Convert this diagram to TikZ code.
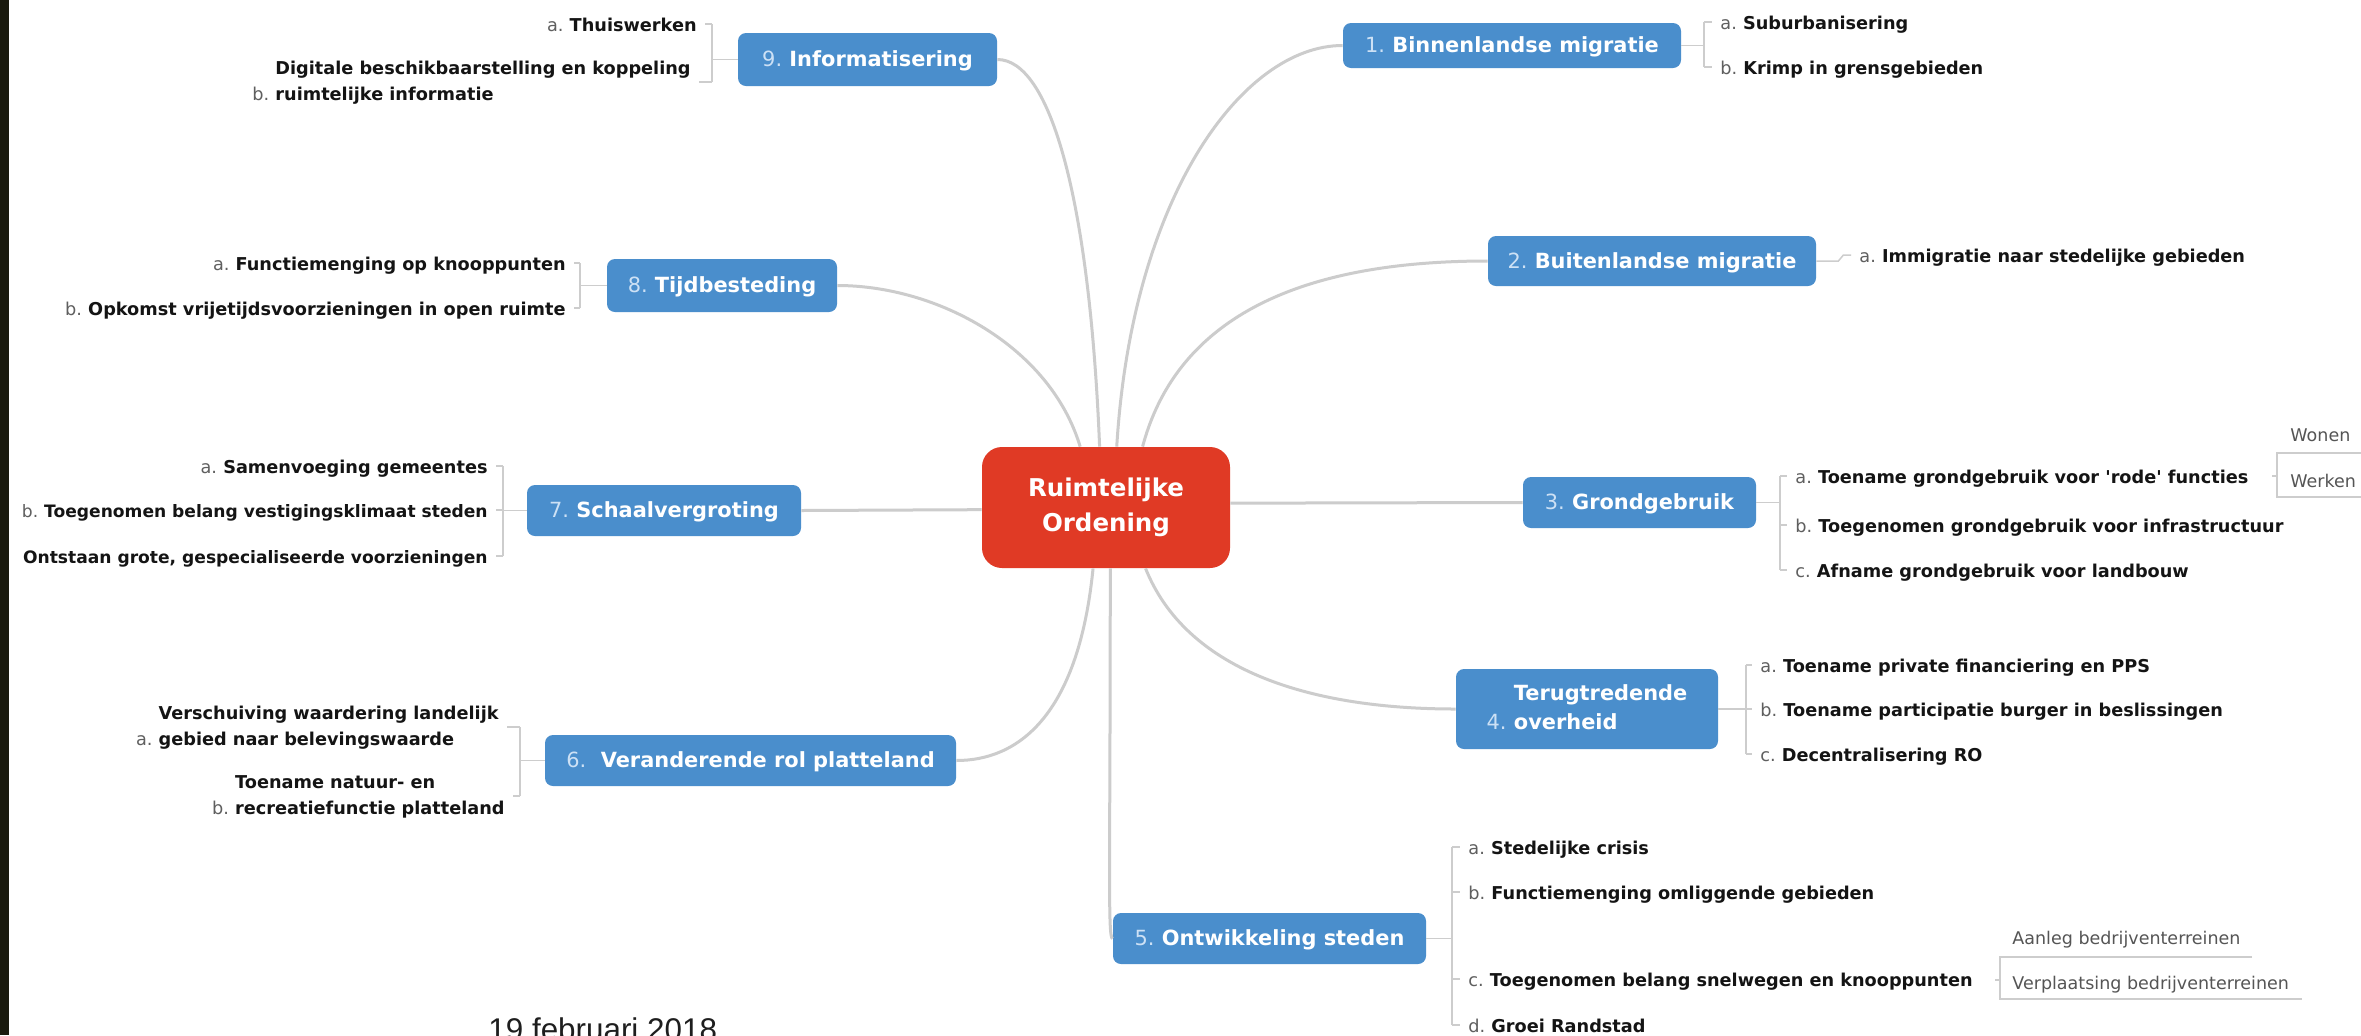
\documentclass[tikz,border=0pt]{standalone}
\usepackage{fontspec}
\setmainfont{DejaVu Sans}
\newfontfamily\datefont{Liberation Sans}
\usetikzlibrary{calc}
\definecolor{nodeblue}{RGB}{74,142,204}
\definecolor{centerred}{RGB}{224,58,37}
\definecolor{numcol}{RGB}{205,225,245}
\definecolor{lblgray}{RGB}{95,95,95}
\definecolor{linegray}{RGB}{204,204,204}
\definecolor{brgray}{RGB}{205,205,205}
\definecolor{band}{RGB}{26,26,14}
\definecolor{subgray}{RGB}{85,85,85}
\definecolor{subtext}{RGB}{20,20,20}
\newcommand\nm[1]{{\mdseries\color{numcol}#1}\ }
\newcommand\lb[1]{{\mdseries\color{lblgray}#1}\ }
\newcommand\lbt[1]{{\mdseries\color{lblgray}#1}}
\tikzset{
 topic/.style={fill=nodeblue, rounded corners=4pt, text=white, font=\fontsize{10.45}{14.5}\selectfont\bfseries, inner sep=0pt, text height=0.73em, text depth=0pt},
 topictwo/.style={fill=nodeblue, rounded corners=4pt, text=white, font=\fontsize{10.45}{14.5}\selectfont\bfseries, inner sep=0pt},
 central/.style={fill=centerred, rounded corners=10pt, text=white, font=\fontsize{12.25}{17.5}\selectfont\bfseries, align=center, inner sep=0pt},
 sub/.style={font=\fontsize{8.85}{13.25}\selectfont\bfseries, inner sep=0pt, text height=0.73em, text depth=0pt, text=subtext},
 subnarrow/.style={sub, font=\fontsize{8.55}{13.25}\selectfont\bfseries},
 subblock/.style={font=\fontsize{8.85}{13.25}\selectfont\bfseries, inner sep=0pt, text=subtext},
 minor/.style={font=\fontsize{8.75}{12}\selectfont, text=subgray, inner sep=0pt, text height=0.73em, text depth=0pt, anchor=west},
 branch/.style={draw=linegray, line width=1.5pt},
 bracket/.style={draw=brgray, line width=0.75pt},
}
\begin{document}
\begin{tikzpicture}[x=0.5pt, y=-0.5pt]
\fill[white] (0,0) rectangle (2361,1035);
\useasboundingbox (0,0) rectangle (2361,1035);

% central node
\node[central, minimum width=124pt, minimum height=60.5pt] (c) at (1106,507.5) {Ruimtelijke\\Ordening};

% main topics
\node[topic, minimum width=169pt, minimum height=22.5pt] (n1) at (1512,45.5) {\nm{1.}Binnenlandse migratie};
\node[topic, minimum width=164pt, minimum height=25pt] (n2) at (1652,261) {\nm{2.}Buitenlandse migratie};
\node[topic, minimum width=116.5pt, minimum height=25.5pt] (n3) at (1639.5,502.5) {\nm{3.}Grondgebruik};
\node[topictwo, minimum width=131pt, minimum height=40pt] (n4) at (1587,709) {\begin{tabular}{@{}r@{\ }l@{}} & Terugtredende\\ {\mdseries\color{numcol}4.} & overheid\end{tabular}};
\node[topic, minimum width=156.5pt, minimum height=25.5pt] (n5) at (1269.5,938.5) {\nm{5.}Ontwikkeling steden};
\node[topic, minimum width=205.5pt, minimum height=25.5pt] (n6) at (750.5,760.5) {\nm{6.}\ Veranderende rol platteland};
\node[topic, minimum width=137pt, minimum height=25.5pt] (n7) at (664,510.5) {\nm{7.}Schaalvergroting};
\node[topic, minimum width=115pt, minimum height=26.5pt] (n8) at (722,285.5) {\nm{8.}Tijdbesteding};
\node[topic, minimum width=129.5pt, minimum height=26.5pt] (n9) at (867.5,59.5) {\nm{9.}Informatisering};

% branches
\draw[branch] (c.96) .. controls +(-10,-247) and +(53,0) .. (n9.east);
\draw[branch] (c.113) .. controls +(-30,-100) and +(100,0) .. (n8.east);
\draw[branch] (c.80) .. controls +(15,-250) and +(-100,0) .. (n1.west);
\draw[branch] (c.59) .. controls +(40,-150) and +(-150,0) .. (n2.west);
\draw[branch] (c.2) -- (n3.west);
\draw[branch] (c.181) -- (n7.east);
\draw[branch] (c.-57) .. controls +(40,100) and +(-150,0) .. (n4.west);
\draw[branch] (c.-86) .. controls +(0,300) and +(-5,0) .. (n5.west);
\draw[branch] (c.-102) .. controls +(-15,150) and +(60,0) .. (n6.east);

% right sub-items
\node[sub, anchor=west] (s1a) at (1720,22) {\lb{a.}Suburbanisering};
\node[sub, anchor=west] (s1b) at (1720,67) {\lb{b.}Krimp in grensgebieden};
\node[sub, anchor=west] (s2a) at (1859,255) {\lb{a.}Immigratie naar stedelijke gebieden};
\node[sub, anchor=west] (s3a) at (1795,476) {\lb{a.}Toename grondgebruik voor \textquotesingle rode\textquotesingle\ functies};
\node[sub, anchor=west] (s3b) at (1795,525) {\lb{b.}Toegenomen grondgebruik voor infrastructuur};
\node[sub, anchor=west] (s3c) at (1795,570) {\lb{c.}Afname grondgebruik voor landbouw};
\node[sub, anchor=west] (s4a) at (1760,665) {\lb{a.}Toename private financiering en PPS};
\node[sub, anchor=west] (s4b) at (1760,709) {\lb{b.}Toename participatie burger in beslissingen};
\node[sub, anchor=west] (s4c) at (1760,754) {\lb{c.}Decentralisering RO};
\node[sub, anchor=west] (s5a) at (1468,847) {\lb{a.}Stedelijke crisis};
\node[sub, anchor=west] (s5b) at (1468,892) {\lb{b.}Functiemenging omliggende gebieden};
\node[sub, anchor=west] (s5c) at (1468,979) {\lb{c.}Toegenomen belang snelwegen en knooppunten};
\node[sub, anchor=west] (s5d) at (1468,1025) {\lb{d.}Groei Randstad};

% left sub-items
\node[sub, anchor=east] (s7a) at (488,466) {\lb{a.}Samenvoeging gemeentes};
\node[subnarrow, anchor=east] (s7b) at (488,510) {\lb{b.}Toegenomen belang vestigingsklimaat steden};
\node[subnarrow, anchor=east] (s7c) at (488,556) {Ontstaan grote, gespecialiseerde voorzieningen};
\node[sub, anchor=east] (s8a) at (566,263) {\lb{a.}Functiemenging op knooppunten};
\node[sub, anchor=east] (s8b) at (566,308) {\lb{b.}Opkomst vrijetijdsvoorzieningen in open ruimte};
\node[sub, anchor=east] (s9a) at (697,24) {\lb{a.}Thuiswerken};
\node[subblock, anchor=east] (s9b) at (691,82) {\begin{tabular}{@{}r@{\ }l@{}} & Digitale beschikbaarstelling en koppeling\\ \lbt{b.} & ruimtelijke informatie\end{tabular}};
\node[subblock, anchor=east] (s6a) at (499,727) {\begin{tabular}{@{}r@{\ }l@{}} & Verschuiving waardering landelijk\\ \lbt{a.} & gebied naar belevingswaarde\end{tabular}};
\node[subblock, anchor=east] (s6b) at (505,796) {\begin{tabular}{@{}r@{\ }l@{}} & Toename natuur- en\\ \lbt{b.} & recreatiefunctie platteland\end{tabular}};

% brackets right
\coordinate (b1) at (1704,45.5);
\draw[bracket] (n1.east) -- (b1) (b1 |- s1a.west) -- (b1 |- s1b.west);
\foreach \s in {s1a,s1b} \draw[bracket, shorten >=4pt] (b1 |- \s.west) -- (\s.west);
\draw[bracket, shorten >=4pt] (n2.east) -- ++(22,0) -- ++(5,-6) -- (s2a.west);
\coordinate (b3) at (1780,502.5);
\draw[bracket] (n3.east) -- (b3) (b3 |- s3a.west) -- (b3 |- s3c.west);
\foreach \s in {s3a,s3b,s3c} \draw[bracket, shorten >=4pt] (b3 |- \s.west) -- (\s.west);
\coordinate (b4) at (1746,709);
\draw[bracket] (n4.east) -- (b4) (b4 |- s4a.west) -- (b4 |- s4c.west);
\foreach \s in {s4a,s4b,s4c} \draw[bracket, shorten >=4pt] (b4 |- \s.west) -- (\s.west);
\coordinate (b5) at (1452,938.5);
\draw[bracket] (n5.east) -- (b5) (b5 |- s5a.west) -- (b5 |- s5d.west);
\foreach \s in {s5a,s5b,s5c,s5d} \draw[bracket, shorten >=4pt] (b5 |- \s.west) -- (\s.west);

% brackets left
\coordinate (b7) at (503,510.5);
\draw[bracket] (n7.west) -- (b7) (b7 |- s7a.east) -- (b7 |- s7c.east);
\foreach \s in {s7a,s7b,s7c} \draw[bracket, shorten >=4pt] (b7 |- \s.east) -- (\s.east);
\coordinate (b8) at (580,285.5);
\draw[bracket] (n8.west) -- (b8) (b8 |- s8a.east) -- (b8 |- s8b.east);
\foreach \s in {s8a,s8b} \draw[bracket, shorten >=4pt] (b8 |- \s.east) -- (\s.east);
\coordinate (b9) at (712,59.5);
\draw[bracket] (n9.west) -- (b9) (b9 |- s9a.east) -- (b9 |- s9b.east);
\foreach \s in {s9a,s9b} \draw[bracket, shorten >=4pt] (b9 |- \s.east) -- (\s.east);
\coordinate (b6) at (520,760.5);
\draw[bracket] (n6.west) -- (b6) (b6 |- s6a.east) -- (b6 |- s6b.east);
\foreach \s in {s6a,s6b} \draw[bracket, shorten >=4pt] (b6 |- \s.east) -- (\s.east);

% Wonen / Werken group
\node[minor] (wonen) at (2290,434) {Wonen};
\node[minor] (werken) at (2290,480) {Werken};
\coordinate (g3) at (2277,476);
\draw[bracket] ($(g3)+(-5,0)$) -- (g3);
\draw[bracket] (2390,453) -- (2277,453) -- (2277,497) -- (2390,497);

% Aanleg / Verplaatsing group
\node[minor] (aanleg) at (2012,937) {Aanleg bedrijventerreinen};
\node[minor] (verpl) at (2012,982) {Verplaatsing bedrijventerreinen};
\coordinate (g5) at (2000,980);
\draw[bracket] ($(g5)+(-5,0)$) -- (g5);
\draw[bracket] (2252,957) -- (2000,957) -- (2000,999) -- (2302,999);

% date
\node[font=\datefont\fontsize{15.7}{18}\selectfont, text={rgb,255:red,30;green,30;blue,30}, anchor=base west, inner sep=0pt] (date) at (488,1040) {19 februari 2018};

% dark band
\fill[band] (0,0) rectangle (9,1035);
\end{tikzpicture}
\end{document}
